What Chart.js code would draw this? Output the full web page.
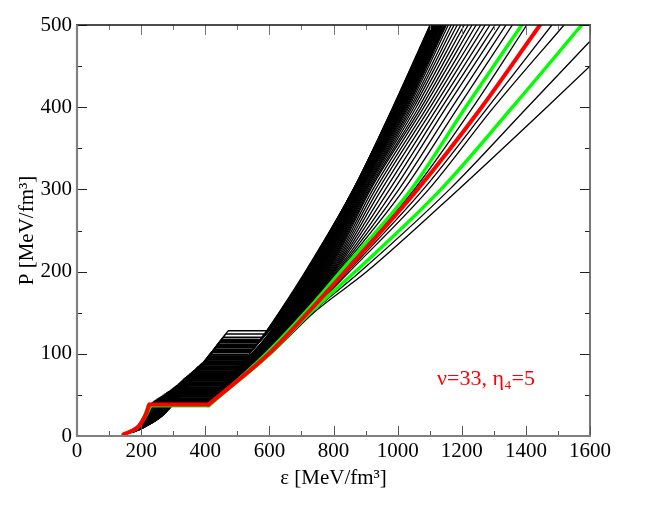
<!DOCTYPE html>
<html>
<head>
<meta charset="utf-8">
<script src="https://cdn.jsdelivr.net/npm/chart.js@4"></script>
<style>html,body{margin:0;padding:0;background:#fff}canvas{display:block}</style>
</head>
<body>
<canvas id="c" width="664" height="513"></canvas>
<script>
const startE = 145, startP = 2;
const pTransition = [38,38,37,38,38,38.3,38,37,
 40,41,42,43,44.5,46,47.5,49,50.5,52,
 53.5,55,56.5,58,59.5,61,62.5,64,65.5,67,
 68.5,70,71.5,73,74.5,76,77.5,79,80.5,82,
 83.5,85,86.5,88,89.5,91,92.5,94,95.5,97,
 99,102,105,108,111,114,117,120,124,128];
const eOnset = [224,224,222,226,226,226,228,230,
 232,236,239,243,248,254,260,266,272,278,
 283,289,294,299,304,309,314,319,323,327,
 331,335,340,344,349,353,358,362,367,371,
 375,379,384,388,393,397,400,404,407,411,
 413,419,426,432,438,443,449,455,463,471];
const eOffset = [409,409,408,410,410,410,411,412,
 414,416,418,420,423,424,427,430,433,436,
 439,442,445,448,451,454,457,461,464,467,
 471,474,477,481,484,487,490,494,497,500,
 503,506,509,512,515,518,521,524,527,531,
 535,541,548,554,560,566,571,577,585,592];
const eAtP6 = [170,170,170,170,170,170,170,170,
 171,171,172,172,173,173,173,174,174,174,
 175,175,175,176,176,176,176,177,177,177,
 178,178,178,178,179,179,179,179,180,180,
 180,180,180,181,181,181,181,181,181,182,
 182,182,182,182,182,182,182,183,183,183];
const eAtP12 = [193,193,193,193,193,193,193,193,
 195,196,197,198,199,199,200,200,201,201,
 202,202,203,203,204,204,204,205,205,205,
 206,206,207,207,208,208,209,209,210,210,
 210,211,211,211,212,212,212,213,213,213,
 213,214,214,214,214,215,215,215,215,216];
const eAtP25 = [213,213,212,213,213,213,214,215,
 218,221,224,226,229,231,233,235,237,239,
 241,242,243,245,246,247,248,249,250,251,
 252,253,254,255,256,257,257,258,259,259,
 260,260,261,261,262,262,263,263,263,264,
 264,264,265,265,265,266,266,266,267,267];
const eAtP50 = [null,null,null,null,null,null,null,null,
 null,null,null,null,null,null,null,null,null,null,
 276,279,282,285,288,291,293,295,297,299,
 301,302,304,305,307,308,309,310,311,312,
 313,314,315,316,317,318,318,319,319,320,
 320,321,321,322,322,323,323,324,324,325];
const eAtP100 = [606,604,602,600,599,598,594,590,
 585,581,579,577,575,573,571,570,568,567,
 565,564,563,562,561,560,559,558,557,556,
 555,554,553,552,552,551,551,550,550,549,
 549,548,548,547,547,546,546,545,545,544,
 null,null,null,null,null,null,null,null,null,null];
const eAtP150 = [738,732,727,724,722,720,716,711,
 706,704,702,701,699,698,696,695,693,692,
 690,689,687,685,684,682,681,679,678,676,
 675,673,672,670,668,667,665,664,662,661,
 659,658,656,654,653,651,650,648,647,645,
 644,642,641,639,637,636,634,633,631,630];
const eAtP200 = [904,884,868,850,844,836,830,822,
 816,812,808,804,801,798,795,792,789,786,
 783,780,778,775,773,770,768,766,763,761,
 759,757,755,753,751,749,747,745,743,741,
 739,737,735,733,731,729,727,725,724,723,
 722,721,720,719,718,717,716,715,714,712];
const eAtP300 = [1190,1162,1135,1097,1080,1062,1052,1042,
 1020,1004,989,975,962,950,940,931,923,916,
 912,908,904,901,898,895,892,889,887,885,
 883,881,879,877,875,874,873,872,871,870,
 869,869,868,868,867,867,866,866,865,865,
 864,864,864,863,863,863,862,862,862,862];
const eAtP400 = [1465,1405,1358,1300,1282,1262,1235,1212,
 1189,1170,1152,1138,1125,1113,1102,1092,1082,1074,
 1066,1058,1051,1045,1040,1035,1031,1028,1025,1022,
 1020,1018,1016,1014,1012,1010,1008,1006,1005,1004,
 1003,1002,1001,1000,999,998,997,996,995,994,
 993,992,991,990,989,988,987,987,986,985];
const eAtP500 = [1735,1648,1574,1519,1481,1444,1403,1387,
 1358,1338,1320,1304,1288,1273,1259,1245,1232,1220,
 1208,1197,1186,1176,1167,1158,1152,1149,1147,1145,
 1143,1141,1138,1136,1134,1132,1130,1128,1126,1124,
 1122,1120,1118,1117,1116,1115,1114,1113,1112,1111,
 1110,1109,1108,1107,1106,1105,1104,1103,1102,1101];
const greenCurves = [2,7];
const redCurve = 5;
const xMajorTicks = [0,200,400,600,800,1000,1200,1400,1600];
const xMinorTicks = [100,300,500,700,900,1100,1300,1500];
const yMajorTicks = [0,100,200,300,400,500];
const yMinorTicks = [50,150,250,350,450];
const xTitle = "ε [MeV/fm³]";
const yTitle = "P [MeV/fm³]";
const noteText = "ν=33, η₄=5";

const serif = '"Liberation Serif","Times New Roman",serif';

function lowerBranch(i){
  const p = [{x:startE,y:startP},{x:eAtP6[i],y:6},{x:eAtP12[i],y:12},{x:eAtP25[i],y:25}];
  if(eAtP50[i]!==null) p.push({x:eAtP50[i],y:50});
  p.push({x:eOnset[i],y:pTransition[i]});
  return p;
}
function plateau(i){
  return [{x:eOnset[i],y:pTransition[i]},{x:eOffset[i],y:pTransition[i]}];
}
function upperBranch(i){
  const p = [{x:eOffset[i],y:pTransition[i]}];
  if(eAtP100[i]!==null) p.push({x:eAtP100[i],y:100});
  p.push({x:eAtP150[i],y:150},{x:eAtP200[i],y:200},{x:eAtP300[i],y:300},{x:eAtP400[i],y:400},{x:eAtP500[i],y:500});
  return p;
}
const datasets = [];
pTransition.forEach((pt,i)=>{
  const isRed = i===redCurve, isGreen = greenCurves.includes(i);
  const base = {
    borderColor: isRed ? '#ff0000' : isGreen ? '#00ff00' : '#000000',
    order: isRed ? 0 : isGreen ? 1 : 2,
    pointRadius: 0, fill:false,
    borderCapStyle: (isRed||isGreen) ? 'round' : 'butt'
  };
  const w = isRed ? 4 : isGreen ? 3.4 : 1.3;
  const plateauW = (isRed||isGreen) ? w : (pt<99 ? 1.8 : pt<118 ? 2.4 : 1.6);
  datasets.push({...base,data:lowerBranch(i),borderWidth:w,cubicInterpolationMode:'monotone'});
  datasets.push({...base,data:plateau(i),borderWidth:plateauW,tension:0});
  datasets.push({...base,data:upperBranch(i),borderWidth:w,cubicInterpolationMode:'monotone'});
});

const framePlugin = {
  id:'frame',
  afterDraw(chart){
    const {ctx, chartArea:a, scales:{x,y}} = chart;
    ctx.save();
    ctx.lineCap='butt';
    const seg=(x1,y1,x2,y2,col,w)=>{ctx.strokeStyle=col;ctx.lineWidth=w;ctx.beginPath();ctx.moveTo(x1,y1);ctx.lineTo(x2,y2);ctx.stroke();};
    const drawX=(v,len)=>{const px=Math.round(x.getPixelForValue(v))+0.5;
      seg(px,a.bottom,px,a.bottom-len,'#555',1);
      seg(px,a.top,px,a.top+len,'#777',1);};
    const drawY=(v,len)=>{const py=Math.round(y.getPixelForValue(v))+0.5;
      seg(a.left,py,a.left+len,py,'#222',1);
      seg(a.right,py,a.right-len,py,'#222',1);};
    xMajorTicks.forEach(v=>drawX(v,10)); xMinorTicks.forEach(v=>drawX(v,5));
    yMajorTicks.forEach(v=>drawY(v,10)); yMinorTicks.forEach(v=>drawY(v,5));
    seg(a.left-1,a.top,a.right+1,a.top,'#111',1.3);
    seg(a.right,a.top,a.right,a.bottom,'#555',1.6);
    seg(a.left,a.top,a.left,a.bottom+1,'#808080',2.2);
    seg(a.left-1,a.bottom,a.right+1,a.bottom,'#808080',2.2);
    ctx.fillStyle='#ff0000';
    ctx.font='22px '+serif;
    ctx.textBaseline='alphabetic';
    ctx.textAlign='left';
    ctx.fillText(noteText, x.getPixelForValue(1123), y.getPixelForValue(62));
    ctx.restore();
  }
};

new Chart(document.getElementById('c'),{
  type:'line',
  data:{datasets},
  plugins:[framePlugin],
  options:{
    responsive:false, animation:false, devicePixelRatio:1,
    layout:{padding:{top:25,right:74,left:0,bottom:0}},
    plugins:{legend:{display:false},tooltip:{enabled:false},title:{display:false}},
    scales:{
      x:{type:'linear',min:0,max:1600,
        afterFit(s){s.height=77;},
        grid:{display:false,drawTicks:false},border:{display:false},
        ticks:{stepSize:200,maxRotation:0,autoSkip:false,padding:3,color:'#000',font:{family:serif,size:21},callback:v=>String(v)},
        title:{display:true,text:xTitle,color:'#000',font:{family:serif,size:21},padding:{top:0,bottom:22}}},
      y:{type:'linear',min:0,max:500,
        afterFit(s){s.width=77;},
        grid:{display:false,drawTicks:false},border:{display:false},
        ticks:{stepSize:100,autoSkip:false,padding:5,color:'#000',font:{family:serif,size:21},callback:v=>String(v)},
        title:{display:true,text:yTitle,color:'#000',font:{family:serif,size:21},padding:{top:15,bottom:0}}}
    }
  }
});
</script>
</body>
</html>
